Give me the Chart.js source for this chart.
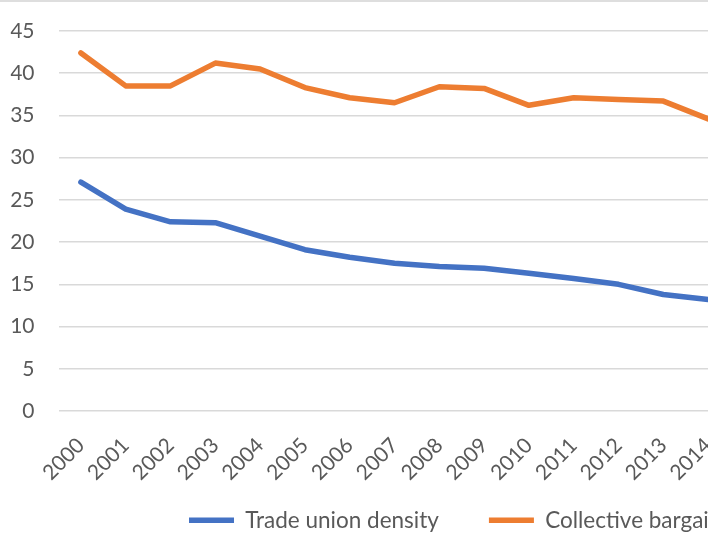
<!DOCTYPE html>
<html>
<head>
<meta charset="utf-8">
<script src="https://cdn.jsdelivr.net/npm/chart.js@4/dist/chart.umd.min.js"></script>
<style>
  html, body { margin: 0; padding: 0; background: #ffffff; }
  #frame {
    position: relative;
    width: 708px;
    height: 542px;
    overflow: hidden;
    background: #ffffff;
  }
  #frame::before {
    content: "";
    position: absolute;
    left: 0; top: 0;
    width: 100%;
    height: 0;
    border-top: 2px solid #dedede;
    z-index: 2;
  }
  canvas { display: block; }
</style>
</head>
<body>
<div id="frame"><canvas id="chart" width="1024" height="542"></canvas></div>
<script>
// Years on the category axis
const years = ['2000', '2001', '2002', '2003', '2004', '2005', '2006', '2007',
               '2008', '2009', '2010', '2011', '2012', '2013', '2014'];

// Trade union density (%)
const unionDensity = [27.1, 23.9, 22.4, 22.3, 20.7, 19.1, 18.2, 17.5,
                      17.1, 16.9, 16.3, 15.7, 15.0, 13.8, 13.2];

// Collective bargaining coverage (%)
const bargainingCoverage = [42.4, 38.5, 38.5, 41.2, 40.5, 38.3, 37.1, 36.5,
                            38.4, 38.2, 36.2, 37.1, 36.9, 36.7, 34.6];

// Value axis ticks
const yTicks = [0, 5, 10, 15, 20, 25, 30, 35, 40, 45];

const seriesNames = ['Trade union density', 'Collective bargaining coverage'];

const FONT = 'Lato, "Liberation Sans", sans-serif';
const TEXT = '#595959';

// Pull the legend up into the free space under the rotated year labels
// and let its box run to the bottom edge of the canvas.
const raiseLegend = {
  id: 'raiseLegend',
  afterLayout(chart) {
    const lg = chart.legend;
    if (!lg) return;
    lg.top -= 24;
    lg.bottom = chart.height;
    lg.height = lg.bottom - lg.top;
  }
};

new Chart(document.getElementById('chart'), {
  type: 'line',
  data: {
    labels: years,
    datasets: [
      {
        label: seriesNames[0],
        data: unionDensity,
        borderColor: '#4472C4',
        backgroundColor: '#4472C4',
        borderWidth: 5.5,
        borderCapStyle: 'round',
        borderJoinStyle: 'round',
        pointRadius: 0,
        tension: 0
      },
      {
        label: seriesNames[1],
        data: bargainingCoverage,
        borderColor: '#ED7D31',
        backgroundColor: '#ED7D31',
        borderWidth: 5.5,
        borderCapStyle: 'round',
        borderJoinStyle: 'round',
        pointRadius: 0,
        tension: 0
      }
    ]
  },
  options: {
    responsive: false,
    animation: false,
    layout: { padding: { left: 10.5, top: 31, right: 0, bottom: 1 } },
    plugins: {
      tooltip: { enabled: false },
      legend: {
        position: 'bottom',
        maxHeight: 58,
        labels: {
          usePointStyle: true,
          pointStyle: 'line',
          pointStyleWidth: 45,
          padding: 50,
          color: TEXT,
          font: { family: FONT, size: 22.5 }
        }
      }
    },
    scales: {
      x: {
        offset: true,
        grid: { display: false },
        border: { display: false },
        afterFit(scale) {
          scale.paddingLeft = 0;
          scale.paddingRight = 0;
          scale.height = 72;
        },
        ticks: {
          color: TEXT,
          font: { family: FONT, size: 21 },
          minRotation: 45,
          maxRotation: 45,
          autoSkip: false,
          padding: 14
        }
      },
      y: {
        min: 0,
        max: 45,
        afterBuildTicks(scale) {
          scale.ticks = yTicks.map(v => ({ value: v }));
        },
        afterFit(scale) {
          scale.width = 48;
          scale.paddingTop = 0;
          scale.paddingBottom = 0;
        },
        grid: {
          color: '#d9d9d9',
          lineWidth: 1.5,
          drawTicks: false
        },
        border: { display: false },
        ticks: {
          color: TEXT,
          font: { family: FONT, size: 21 },
          padding: 24
        }
      },
      // Empty margin to the right of the plot area
      margin: {
        type: 'linear',
        position: 'right',
        grid: { display: false },
        border: { display: false },
        ticks: { display: false },
        afterFit(scale) {
          scale.width = 293.5;
        }
      }
    }
  },
  plugins: [raiseLegend]
});
</script>
</body>
</html>
